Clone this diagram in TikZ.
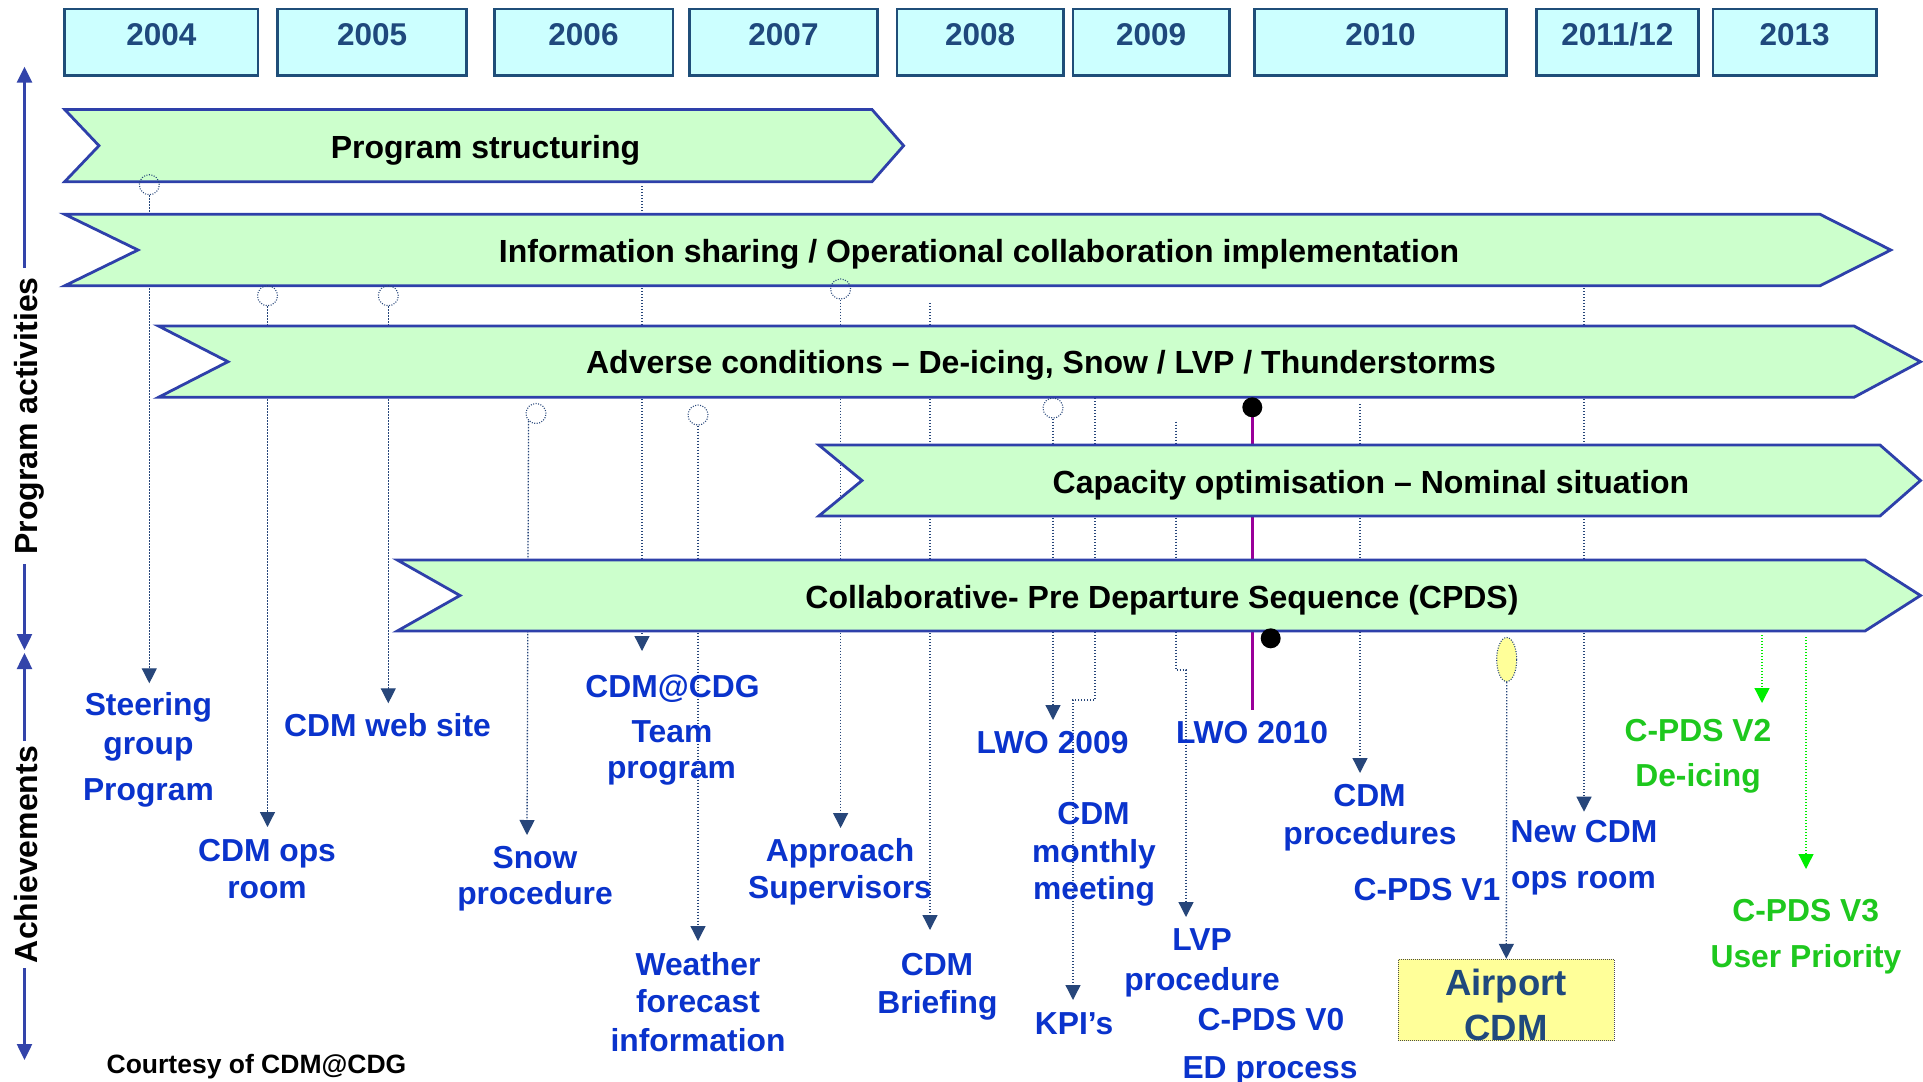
\documentclass[tikz,border=0pt]{standalone}
\usepackage{fontspec}
\setmainfont{Liberation Sans}
\usetikzlibrary{arrows.meta,shapes.geometric}
\pgfdeclarelayer{bg}
\pgfdeclarelayer{behind}
\pgfsetlayers{bg,behind,main}
\definecolor{yearfill}{HTML}{CCFFFF}
\definecolor{yearborder}{HTML}{1F4E79}
\definecolor{yeartext}{HTML}{1F497D}
\definecolor{chevfill}{HTML}{CCFFCC}
\definecolor{chevborder}{HTML}{2E40AA}
\definecolor{lblblue}{HTML}{0A33CC}
\definecolor{conn}{HTML}{27467A}
\definecolor{axisblue}{HTML}{3344AA}
\definecolor{grntext}{HTML}{1EC81E}
\definecolor{grnline}{HTML}{00EE00}
\definecolor{purp}{HTML}{990099}
\definecolor{airfill}{HTML}{FFFF99}
\begin{document}
\begin{tikzpicture}[x=1pt,y=-1pt,
  yearbox/.style={draw=yearborder, fill=yearfill, line width=2.6pt, inner sep=0pt, minimum height=66.3pt},
  yeartxt/.style={text=yeartext, font=\bfseries\fontsize{31.5}{37}\selectfont, anchor=base, inner sep=0pt},
  chev/.style={draw=chevborder, fill=chevfill, line width=2.8pt},
  chevtxt/.style={text=black, font=\bfseries\fontsize{32}{37}\selectfont, anchor=base, inner sep=0pt},
  lbl/.style={text=lblblue, font=\bfseries\fontsize{31.8}{37}\selectfont, anchor=base, inner sep=0pt},
  glbl/.style={lbl, text=grntext},
  apttxt/.style={text=yeartext, font=\bfseries\fontsize{36.5}{42}\selectfont, anchor=base, inner sep=0pt},
  courtesy/.style={text=black, font=\bfseries\fontsize{26.5}{30}\selectfont, anchor=base, inner sep=0pt},
  conline/.style={draw=conn, line width=1.3pt, dash pattern=on 1.3pt off 1.7pt, -{Triangle[width=15pt,length=15pt]}},
  gline/.style={conline, draw=grnline},
  ring/.style={circle, draw=conn, line width=1.1pt, dash pattern=on 1pt off 1.5pt, minimum size=20pt, inner sep=0pt},
  bdot/.style={circle, fill=black, minimum size=20pt, inner sep=0pt},
  yell/.style={ellipse, draw=conn, fill=airfill, line width=1.1pt, dash pattern=on 1pt off 1.5pt, minimum width=20pt, minimum height=44pt, inner sep=0pt},
  aptbox/.style={draw=black!70, fill=airfill, line width=1pt, dash pattern=on 1pt off 1pt, minimum width=216pt, minimum height=81.4pt, inner sep=0pt},
  axisline/.style={draw=axisblue, line width=2.5pt, -{Triangle[width=15pt,length=16pt]}},
  axlbl/.style={text=black, font=\bfseries\fontsize{32}{37}\selectfont, rotate=90, anchor=base, inner sep=0pt},
]
\useasboundingbox (0,0) rectangle (1923,1082);
\begin{pgfonlayer}{bg}
\fill[white] (0,0) rectangle (1923,1082);
\end{pgfonlayer}

% ---------- year boxes ----------
\node[yearbox, minimum width=193.3pt] (b2004) at (161.35,42.15) {};
\node[yearbox, minimum width=188.8pt] (b2005) at (372.1,42.15) {};
\node[yearbox, minimum width=178.6pt] (b2006) at (583.5,42.15) {};
\node[yearbox, minimum width=188.4pt] (b2007) at (783.5,42.15) {};
\node[yearbox, minimum width=166.5pt] (b2008) at (980.15,42.15) {};
\node[yearbox, minimum width=156.7pt] (b2009) at (1151.15,42.15) {};
\node[yearbox, minimum width=252.4pt] (b2010) at (1380.5,42.15) {};
\node[yearbox, minimum width=162.2pt] (b2011) at (1617.4,42.15) {};
\node[yearbox, minimum width=163.1pt] (b2013) at (1794.65,42.15) {};
\node[yeartxt] (y2004) at (161.35,45) {2004};
\node[yeartxt] (y2005) at (372.1,45) {2005};
\node[yeartxt] (y2006) at (583.5,45) {2006};
\node[yeartxt] (y2007) at (783.5,45) {2007};
\node[yeartxt] (y2008) at (980.15,45) {2008};
\node[yeartxt] (y2009) at (1151.15,45) {2009};
\node[yeartxt] (y2010) at (1380.5,45) {2010};
\node[yeartxt] (y2011) at (1617.4,45) {2011/12};
\node[yeartxt] (y2013) at (1794.65,45) {2013};

% ---------- activity chevrons ----------
\draw[chev] (64.7,109.5) -- (872,109.5) -- (903.6,145.7) -- (872,181.7) -- (64.7,181.7) -- (99,145.7) -- cycle;
\node[chevtxt] (tps) at (485.5,158) {Program structuring};
\draw[chev] (64.7,214.3) -- (1820,214.3) -- (1890.8,250) -- (1820,285.8) -- (64.7,285.8) -- (138,250) -- cycle;
\node[chevtxt] (tis) at (979,262) {Information sharing / Operational collaboration implementation};
\draw[chev] (158.5,326) -- (1854,326) -- (1920.5,361.7) -- (1854,397.3) -- (158.5,397.3) -- (228,361.7) -- cycle;
\node[chevtxt] (tac) at (1041,373.3) {Adverse conditions – De-icing, Snow / LVP / Thunderstorms};
\draw[chev] (818.8,445) -- (1880,445) -- (1920.5,480.5) -- (1880,516) -- (818.8,516) -- (862,480.5) -- cycle;
\node[chevtxt] (tco) at (1371,493) {Capacity optimisation – Nominal situation};
\draw[chev] (397.3,560) -- (1865,560) -- (1920.5,595.5) -- (1865,631) -- (397.3,631) -- (460,595.5) -- cycle;
\node[chevtxt] (tcp) at (1162,608.5) {Collaborative- Pre Departure Sequence (CPDS)};

% ---------- markers ----------
\node[ring] (r1) at (149.3,184.7) {};
\node[ring] (r2) at (267.5,295.7) {};
\node[ring] (r3) at (388.3,295.7) {};
\node[ring] (r4) at (536,413.5) {};
\node[ring] (r6) at (698,415) {};
\node[ring] (r7) at (840.6,289) {};
\node[ring] (r9) at (1053,408) {};
\node[bdot] (d1) at (1252.3,407.3) {};
\node[bdot] (d2) at (1270.7,638.3) {};
\node[yell] (e14) at (1506.7,659.5) {};
\node[aptbox] (apt) at (1506.3,1000) {};

% ---------- connector ends ----------
\coordinate (t1) at (149.3,683.3);
\coordinate (t2) at (267.5,827);
\coordinate (t3) at (388.3,703.3);
\coordinate (t4) at (527,835);
\coordinate (s5) at (642,186);
\coordinate (t5) at (642,651);
\coordinate (t6) at (698,941);
\coordinate (t7) at (840.6,828);
\coordinate (s8) at (930,303);
\coordinate (t8) at (930,930);
\coordinate (t9) at (1053,720);
\coordinate (s10) at (1095,398);
\coordinate (j10) at (1095,700);
\coordinate (k10) at (1073,700);
\coordinate (t10) at (1073,1000);
\coordinate (s11) at (1176,421.7);
\coordinate (j11) at (1176,670);
\coordinate (k11) at (1186,670);
\coordinate (t11) at (1186,917);
\coordinate (p1) at (1252.3,710);
\coordinate (s13) at (1360,404);
\coordinate (t13) at (1360,773);
\coordinate (s15) at (1584,288);
\coordinate (t15) at (1584,811.7);
\coordinate (s16) at (1762,635);
\coordinate (t16) at (1762,703);
\coordinate (s17) at (1806,637);
\coordinate (t17) at (1806,869);

\begin{pgfonlayer}{behind}
\draw[conline] (r1.south) -- (t1);
\draw[conline] (r2.south) -- (t2);
\draw[conline] (r3.south) -- (t3);
\draw[conline] (r4.south west) -- (t4);
\draw[conline] (s5) -- (t5);
\draw[conline] (r6.south) -- (t6);
\draw[conline] (r7.south) -- (t7);
\draw[conline] (s8) -- (t8);
\draw[conline] (r9.south) -- (t9);
\draw[conline] (s10) -- (j10) -- (k10) -- (t10);
\draw[conline] (s11) -- (j11) -- (k11) -- (t11);
\draw[draw=purp, line width=3pt] (d1.center) -- (p1);
\draw[conline] (s13) -- (t13);
\draw[conline] (e14.south) -- (apt.north);
\draw[conline] (s15) -- (t15);
\draw[gline] (s16) -- (t16);
\draw[gline] (s17) -- (t17);
\end{pgfonlayer}

% ---------- achievement labels ----------
\node[lbl] (steer1) at (148.4,715) {Steering};
\node[lbl] (steer2) at (148.4,754) {group};
\node[lbl] (steer3) at (148.4,800) {Program};
\node[lbl] (web) at (387.5,736) {CDM web site};
\node[lbl] (ops1) at (267,861) {CDM ops};
\node[lbl] (ops2) at (267,898) {room};
\node[lbl] (snow1) at (535,868) {Snow};
\node[lbl] (snow2) at (535,904) {procedure};
\node[lbl] (cdg1) at (672.5,697) {CDM@CDG};
\node[lbl] (cdg2) at (672,742) {Team};
\node[lbl] (cdg3) at (671.5,778) {program};
\node[lbl] (wx1) at (698,975) {Weather};
\node[lbl] (wx2) at (698,1012) {forecast};
\node[lbl] (wx3) at (698,1051) {information};
\node[lbl] (app1) at (840,861) {Approach};
\node[lbl] (app2) at (840,898) {Supervisors};
\node[lbl] (brf1) at (937,975) {CDM};
\node[lbl] (brf2) at (937.5,1013) {Briefing};
\node[lbl] (lwo9) at (1052.5,753) {LWO 2009};
\node[lbl] (mon1) at (1093.5,824) {CDM};
\node[lbl] (mon2) at (1094,862) {monthly};
\node[lbl] (mon3) at (1094,899) {meeting};
\node[lbl] (kpi) at (1074,1034) {KPI’s};
\node[lbl] (lvp1) at (1202,950) {LVP};
\node[lbl] (lvp2) at (1202,990) {procedure};
\node[lbl] (v0a) at (1271,1030) {C-PDS V0};
\node[lbl] (v0b) at (1270,1078) {ED process};
\node[lbl] (lwo10) at (1252,743.5) {LWO 2010};
\node[lbl] (proc1) at (1369.5,806) {CDM};
\node[lbl] (proc2) at (1370,844) {procedures};
\node[lbl] (v1) at (1427,900) {C-PDS V1};
\node[lbl] (new1) at (1584,842.7) {New CDM};
\node[lbl] (new2) at (1583.5,888.3) {ops room};
\node[apttxt] (apt1) at (1506,995) {Airport};
\node[apttxt] (apt2) at (1506,1040) {CDM};
\node[glbl] (v2a) at (1698,741.7) {C-PDS V2};
\node[glbl] (v2b) at (1698,786.7) {De-icing};
\node[glbl] (v3a) at (1805.7,921.7) {C-PDS V3};
\node[glbl] (v3b) at (1806,967) {User Priority};
\node[courtesy] (court) at (256.5,1073) {Courtesy of CDM@CDG};

% ---------- left axis ----------
\coordinate (axtop) at (24.5,66.7);
\coordinate (pa1) at (24.5,268);
\coordinate (pa2) at (24.5,564);
\coordinate (axm1) at (24.5,650);
\coordinate (axm2) at (24.5,653);
\coordinate (ac1) at (24.5,741);
\coordinate (ac2) at (24.5,968);
\coordinate (axbot) at (24.5,1060);
\node[axlbl] (pa) at (37,416) {Program activities};
\node[axlbl] (ach) at (37,854.5) {Achievements};
\draw[axisline] (pa1) -- (axtop);
\draw[axisline] (pa2) -- (axm1);
\draw[axisline] (ac1) -- (axm2);
\draw[axisline] (ac2) -- (axbot);
\end{tikzpicture}
\end{document}
